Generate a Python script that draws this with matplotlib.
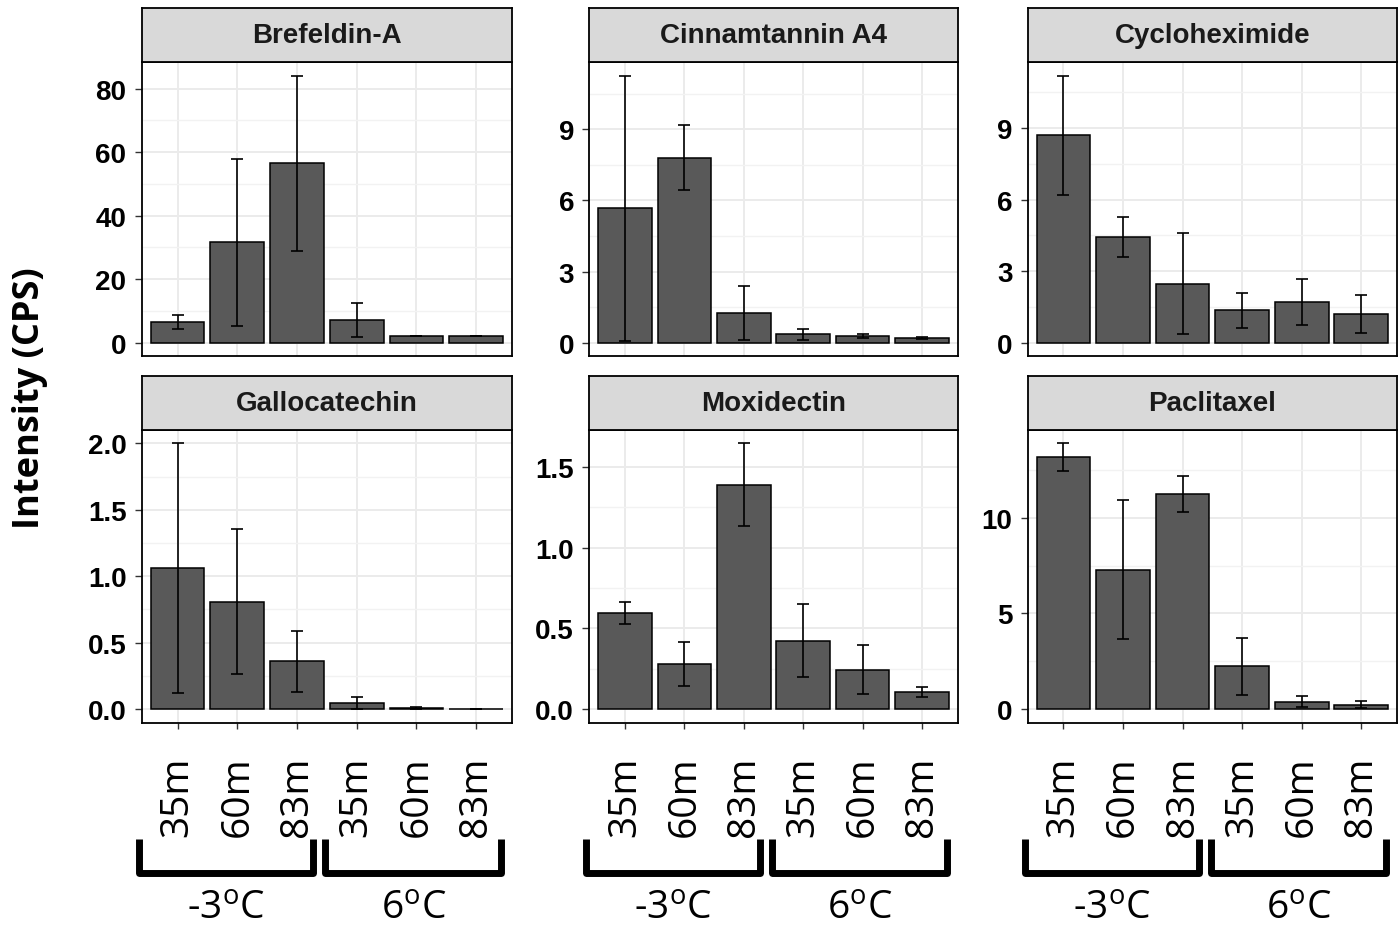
import matplotlib
matplotlib.use('Agg')
import matplotlib.pyplot as plt
import matplotlib.transforms as mtransforms
from matplotlib.ticker import MultipleLocator, AutoMinorLocator, FormatStrFormatter
import numpy as np

W, H = 1399, 928
plt.rcParams['mathtext.fontset'] = 'custom'
plt.rcParams['mathtext.rm'] = 'Open Sans'

# data: bar height and half-width of the error bar
compounds = ["Brefeldin-A", "Cinnamtannin A4", "Cycloheximide",
             "Gallocatechin", "Moxidectin", "Paclitaxel"]
depths = ["35m", "60m", "83m", "35m", "60m", "83m"]
temps = ["-3$^{\\mathrm{o}}$C", "6$^{\\mathrm{o}}$C"]

brefeldin = [6.4, 31.6, 56.5, 7.1, 2.0, 2.0]
brefeldin_err = [2.2, 26.2, 27.6, 5.4, 0.0, 0.0]
cinnamtannin = [5.66, 7.8, 1.25, 0.35, 0.28, 0.2]
cinnamtannin_err = [5.6, 1.38, 1.15, 0.24, 0.08, 0.05]
cycloheximide = [8.7, 4.43, 2.48, 1.36, 1.71, 1.2]
cycloheximide_err = [2.5, 0.82, 2.13, 0.73, 0.97, 0.79]
gallocatechin = [1.06, 0.81, 0.36, 0.045, 0.01, 0.003]
gallocatechin_err = [0.94, 0.545, 0.23, 0.045, 0.01, 0.002]
moxidectin = [0.597, 0.28, 1.39, 0.425, 0.244, 0.105]
moxidectin_err = [0.068, 0.135, 0.255, 0.223, 0.153, 0.031]
paclitaxel = [13.16, 7.27, 11.24, 2.25, 0.4, 0.24]
paclitaxel_err = [0.72, 3.63, 0.93, 1.49, 0.29, 0.17]

values = [brefeldin, cinnamtannin, cycloheximide, gallocatechin, moxidectin, paclitaxel]
errors = [brefeldin_err, cinnamtannin_err, cycloheximide_err,
          gallocatechin_err, moxidectin_err, paclitaxel_err]
tick_steps = [20, 3, 3, 0.5, 0.5, 5]

# panel geometry in pixels
col_x = [(141.7, 512), (589.3, 957.7), (1027.7, 1397)]
row_y = [(9.3, 63.3, 357), (376.7, 431, 723.5)]  # strip top, plot top, plot bottom
bracket_spans = [(-0.65, 2.27), (2.47, 5.42)]


def px_rect(x0, y0, x1, y1):
    return [x0 / W, 1 - y1 / H, (x1 - x0) / W, (y1 - y0) / H]


fig = plt.figure(figsize=(W / 100, H / 100), dpi=100)
fig.patch.set_facecolor('white')

x = np.arange(len(depths))
for i, name in enumerate(compounds):
    r, c = divmod(i, 3)
    x0, x1 = col_x[c]
    s0, p0, p1 = row_y[r]
    ax = fig.add_axes(px_rect(x0, p0, x1, p1))
    strip = fig.add_axes(px_rect(x0, s0, x1, p0))

    # strip header
    strip.set_facecolor('#D9D9D9')
    strip.set_xticks([])
    strip.set_yticks([])
    for sp in strip.spines.values():
        sp.set_linewidth(1.3)
    strip.text(0.5, 0.5, name, ha='center', va='center', fontsize=20,
               fontweight='bold', family='Liberation Sans', color='#1a1a1a',
               transform=strip.transAxes)

    vals = np.array(values[i])
    errs = np.array(errors[i])
    ax.bar(x, vals, width=0.9, color='#595959', edgecolor='black', linewidth=1.1, zorder=2)
    ax.errorbar(x, vals, yerr=errs, fmt='none', ecolor='black', elinewidth=1.2,
                capsize=4.5, capthick=1.2, zorder=3)

    top = (vals + errs).max()
    pad = 0.05 * top
    ax.set_ylim(-pad, top + pad)
    ax.set_xlim(-0.6, len(depths) - 0.4)

    ax.yaxis.set_major_locator(MultipleLocator(tick_steps[i]))
    ax.yaxis.set_minor_locator(AutoMinorLocator(2))
    fmt = '%.1f' if tick_steps[i] < 1 else '%d'
    ax.yaxis.set_major_formatter(FormatStrFormatter(fmt))
    ax.grid(True, which='major', color='#EBEBEB', linewidth=1.4, zorder=0)
    ax.grid(True, which='minor', axis='y', color='#F2F2F2', linewidth=1.0, zorder=0)
    ax.set_axisbelow(True)
    for sp in ax.spines.values():
        sp.set_linewidth(1.3)

    ax.tick_params(axis='y', which='major', length=5, width=1.0, color='#333333',
                   pad=6, labelsize=20)
    ax.tick_params(axis='y', which='minor', length=0)
    for lab in ax.get_yticklabels():
        lab.set_fontweight('bold')
        lab.set_family('Liberation Sans')

    ax.set_xticks(x)
    if r == 0:
        ax.tick_params(axis='x', length=0, labelbottom=False)
    else:
        ax.set_xticklabels(depths, rotation=90, fontsize=28, family='Open Sans')
        ax.tick_params(axis='x', length=4, width=1.0, color='#333333', pad=20)

        # brackets grouping the two temperatures
        trans = mtransforms.blended_transform_factory(ax.transData, fig.transFigure)
        y_top = 1 - 840 / H
        y_bot = 1 - 873.5 / H
        for (a, b), t in zip(bracket_spans, temps):
            ax.plot([a, a, b, b], [y_top, y_bot, y_bot, y_top], color='black',
                    linewidth=5, solid_joinstyle='round', solid_capstyle='butt',
                    transform=trans, clip_on=False)
            ax.text((a + b) / 2, 1 - 919 / H, t, ha='center', va='baseline',
                    fontsize=28, family='Open Sans', transform=trans)

fig.text(30 / W, 1 - 398 / H, "Intensity (CPS)", rotation=90, ha='center', va='center',
         fontsize=26, fontweight='bold', family='Open Sans')

fig.savefig('out.png', dpi=100)
print("plot saved to: out.png")
